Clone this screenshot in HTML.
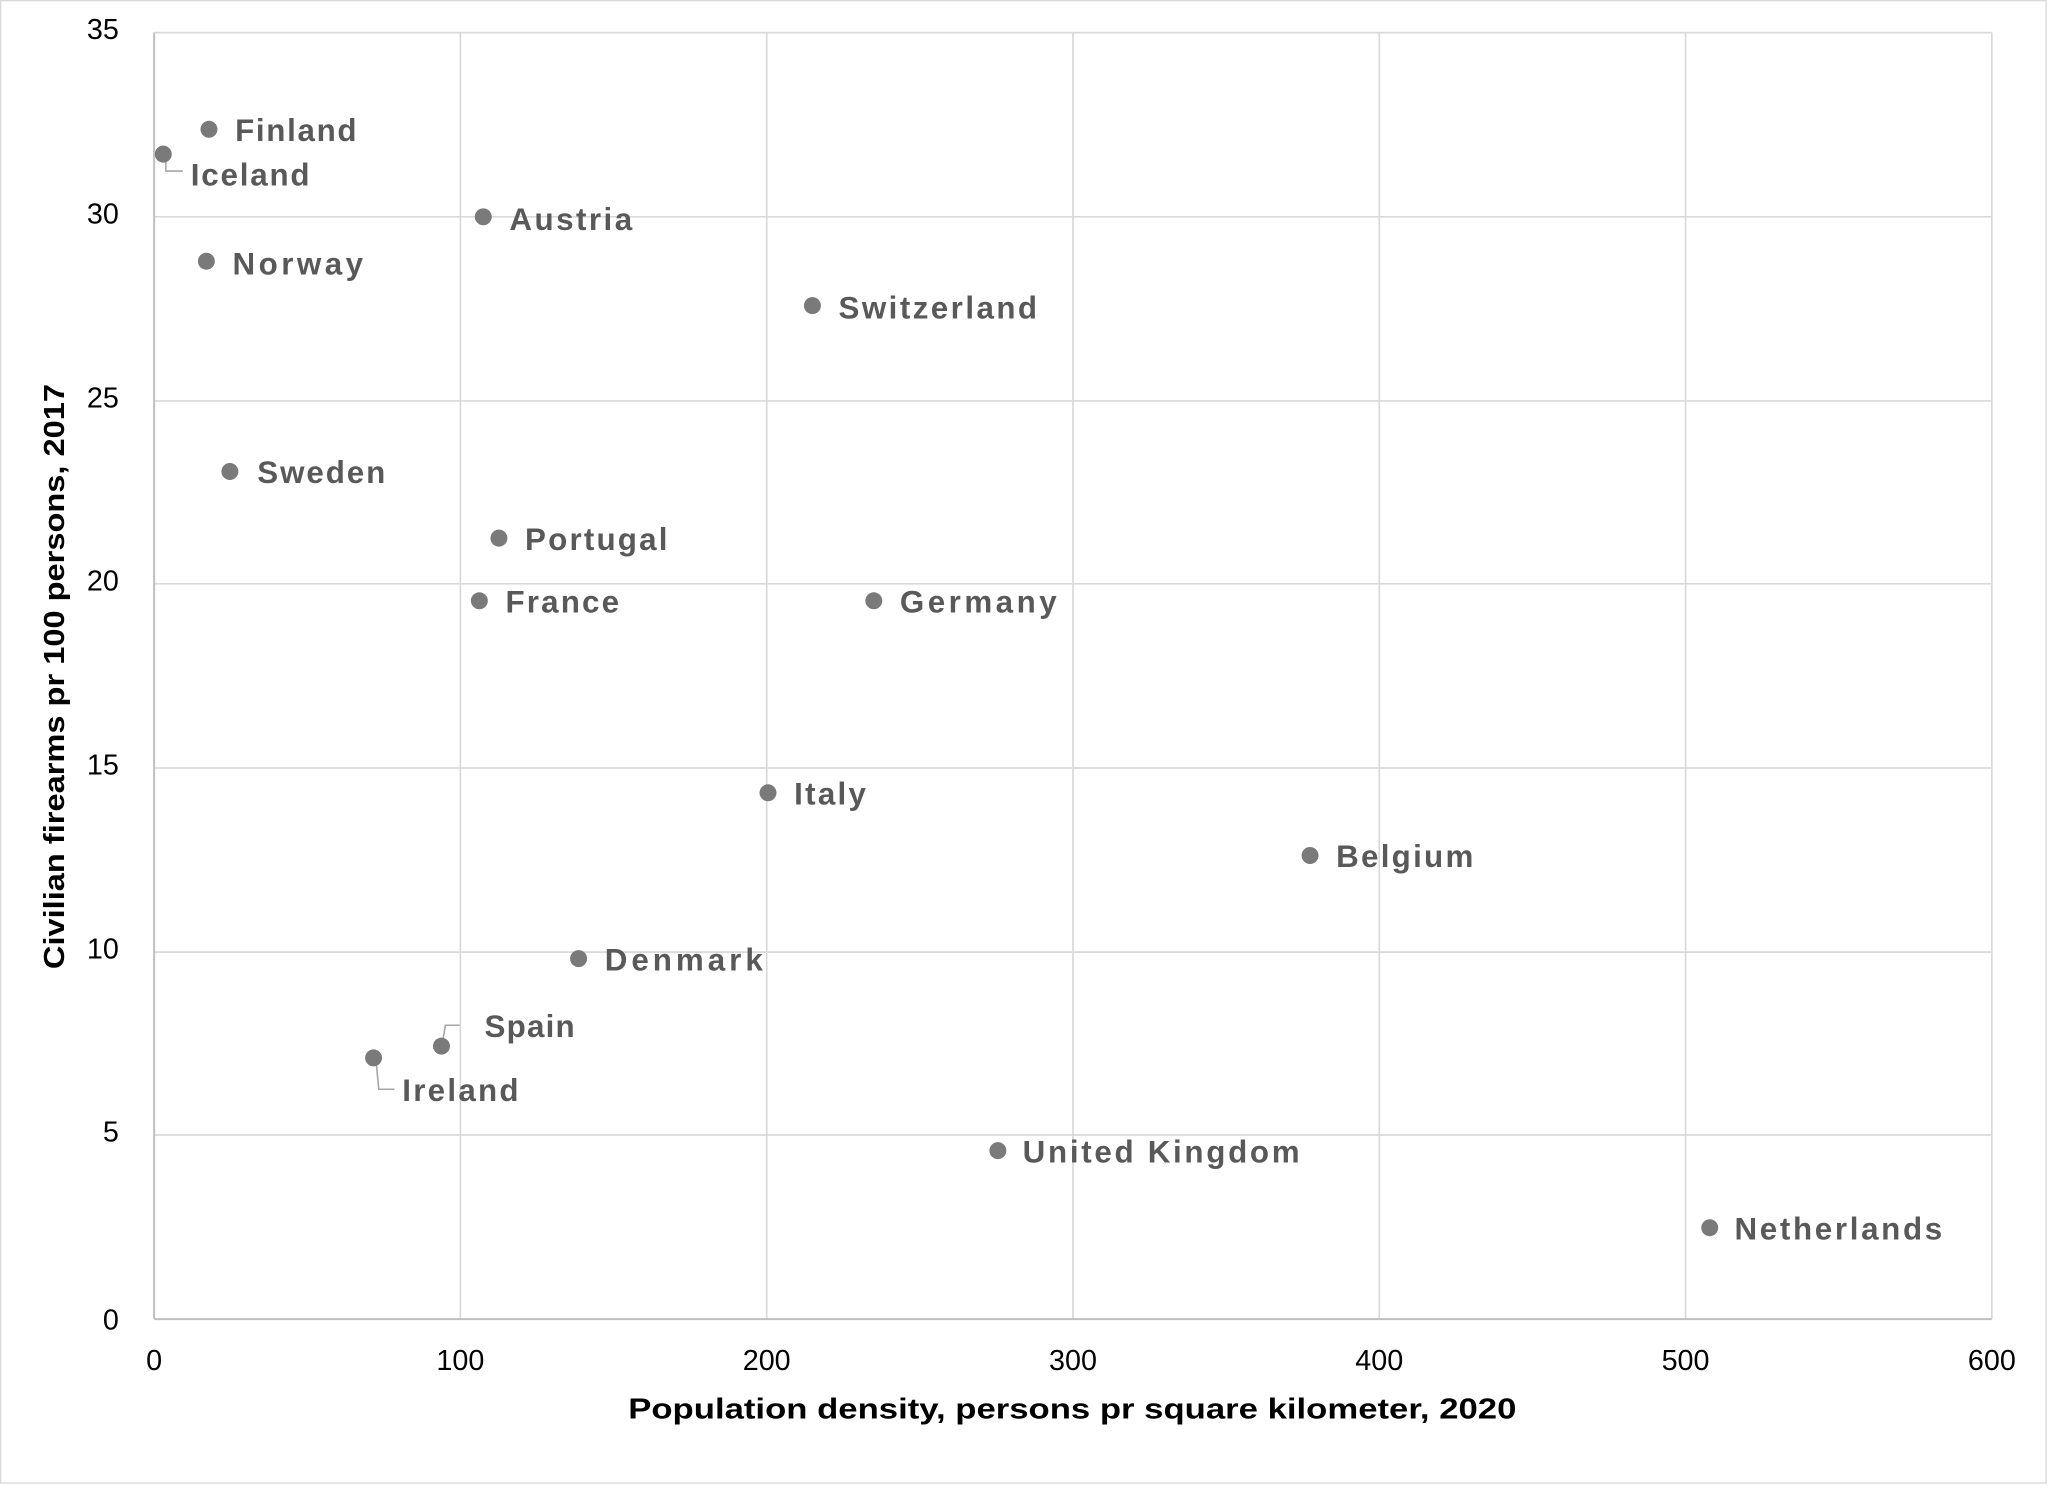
<!DOCTYPE html>
<html><head><meta charset="utf-8"><style>html,body{margin:0;padding:0;background:#fff}svg{display:block}</style></head>
<body>
<svg width="2048" height="1488" viewBox="0 0 1568 1139.3" preserveAspectRatio="none" xmlns="http://www.w3.org/2000/svg">
<rect x="0.5" y="0.5" width="1566" height="1135" fill="#fff" stroke="#d9d9d9" stroke-width="1"/>
<g stroke="#d9d9d9" stroke-width="1.3" fill="none">
<line x1="118" y1="25" x2="1525" y2="25"/>
<line x1="118" y1="166" x2="1525" y2="166"/>
<line x1="118" y1="307" x2="1525" y2="307"/>
<line x1="118" y1="447" x2="1525" y2="447"/>
<line x1="118" y1="588" x2="1525" y2="588"/>
<line x1="118" y1="729" x2="1525" y2="729"/>
<line x1="118" y1="869" x2="1525" y2="869"/>
<line x1="352.5" y1="25" x2="352.5" y2="1010"/>
<line x1="587" y1="25" x2="587" y2="1010"/>
<line x1="821.5" y1="25" x2="821.5" y2="1010"/>
<line x1="1056" y1="25" x2="1056" y2="1010"/>
<line x1="1290.5" y1="25" x2="1290.5" y2="1010"/>
<line x1="1525" y1="25" x2="1525" y2="1010"/>
</g>
<line x1="118" y1="25" x2="118" y2="1010" stroke="#bfbfbf" stroke-width="1.5"/>
<line x1="118" y1="1010" x2="1525" y2="1010" stroke="#bfbfbf" stroke-width="1.5"/>
<g font-family="Liberation Sans, sans-serif" font-size="22" fill="#000" text-anchor="end">
<text x="91" y="30">35</text><text x="91" y="171">30</text><text x="91" y="312">25</text>
<text x="91" y="452">20</text><text x="91" y="593">15</text><text x="91" y="734">10</text>
<text x="91" y="874">5</text><text x="91" y="1018">0</text>
</g>
<g font-family="Liberation Sans, sans-serif" font-size="22" fill="#000" text-anchor="middle">
<text x="118" y="1049">0</text><text x="352.5" y="1049">100</text><text x="587" y="1049">200</text>
<text x="821.5" y="1049">300</text><text x="1056" y="1049">400</text><text x="1290.5" y="1049">500</text><text x="1525" y="1049">600</text>
</g>
<text x="821" y="1086" font-family="Liberation Sans, sans-serif" font-weight="bold" font-size="22" text-anchor="middle" textLength="680" lengthAdjust="spacingAndGlyphs">Population density, persons pr square kilometer, 2020</text>
<text transform="translate(49,518) rotate(-90)" font-family="Liberation Sans, sans-serif" font-weight="bold" font-size="22" text-anchor="middle" textLength="448" lengthAdjust="spacingAndGlyphs">Civilian firearms  pr 100 persons, 2017</text>
<g stroke="#a6a6a6" stroke-width="1.2" fill="none">
<polyline points="127,120 127,131 140,131"/>
<polyline points="339,797 341,785 352,785"/>
<polyline points="288,813 290,834 302,834"/>
</g>
<g fill="#7a7a7a">
<circle cx="160" cy="99" r="6.5"/><circle cx="125" cy="118" r="6.5"/><circle cx="370" cy="166" r="6.5"/>
<circle cx="158" cy="200" r="6.5"/><circle cx="622" cy="234" r="6.5"/><circle cx="176" cy="361" r="6.5"/>
<circle cx="382" cy="412" r="6.5"/><circle cx="367" cy="460" r="6.5"/><circle cx="669" cy="460" r="6.5"/>
<circle cx="588" cy="607" r="6.5"/><circle cx="1003" cy="655" r="6.5"/><circle cx="443" cy="734" r="6.5"/>
<circle cx="338" cy="801" r="6.5"/><circle cx="286" cy="810" r="6.5"/><circle cx="764" cy="881" r="6.5"/>
<circle cx="1309" cy="940" r="6.5"/>
</g>
<g font-family="Liberation Sans, sans-serif" font-weight="bold" font-size="24" fill="#595959" lengthAdjust="spacingAndGlyphs">
<text x="180" y="108" textLength="93">Finland</text>
<text x="146" y="142" textLength="91">Iceland</text>
<text x="390" y="176" textLength="94">Austria</text>
<text x="178" y="210" textLength="100">Norway</text>
<text x="642" y="244" textLength="152">Switzerland</text>
<text x="197" y="370" textLength="98">Sweden</text>
<text x="402" y="421" textLength="109">Portugal</text>
<text x="387" y="469" textLength="87">France</text>
<text x="689" y="469" textLength="120">Germany</text>
<text x="608" y="616" textLength="55">Italy</text>
<text x="1023" y="664" textLength="105">Belgium</text>
<text x="463" y="743" textLength="121">Denmark</text>
<text x="371" y="794" textLength="69">Spain</text>
<text x="308" y="843" textLength="89">Ireland</text>
<text x="783" y="890" textLength="212">United Kingdom</text>
<text x="1328" y="949" textLength="159">Netherlands</text>
</g>
</svg>
</body></html>
